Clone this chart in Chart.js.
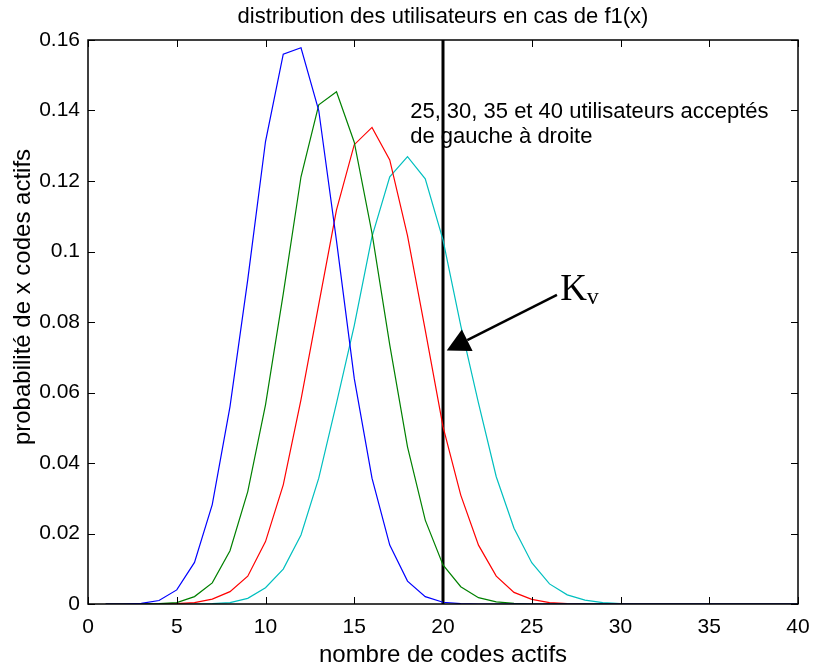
<!DOCTYPE html>
<html>
<head>
<meta charset="utf-8">
<script src="https://cdn.jsdelivr.net/npm/chart.js@4.4.0/dist/chart.umd.min.js"></script>
<style>
  html, body { margin: 0; padding: 0; background: #fff; }
</style>
</head>
<body>
<canvas id="distChart" width="815" height="667"></canvas>
<script>
// nombre de codes actifs (x = 1..40)
const codes = [1, 2, 3, 4, 5, 6, 7, 8, 9, 10, 11, 12, 13, 14, 15, 16, 17, 18, 19, 20,
               21, 22, 23, 24, 25, 26, 27, 28, 29, 30, 31, 32, 33, 34, 35, 36, 37, 38, 39, 40];

// 25 utilisateurs
const users25 = [0, 0, 0.0002, 0.0010, 0.0040, 0.0118, 0.0282, 0.0560, 0.0920, 0.1312,
                 0.1560, 0.1578, 0.1400, 0.1030, 0.0640, 0.0357, 0.0167, 0.0065, 0.0021, 0.0005,
                 0.0001, 0, 0, 0, 0, 0, 0, 0, 0, 0, 0, 0, 0, 0, 0, 0, 0, 0, 0, 0];
// 30 utilisateurs
const users30 = [0, 0, 0, 0.0001, 0.0004, 0.0021, 0.0060, 0.0151, 0.0319, 0.0565,
                 0.0880, 0.1212, 0.1416, 0.1453, 0.1310, 0.1052, 0.0735, 0.0446, 0.0238, 0.0111,
                 0.0049, 0.0018, 0.0006, 0.0002, 0, 0, 0, 0, 0, 0, 0, 0, 0, 0, 0, 0, 0, 0, 0, 0];
// 35 utilisateurs
const users35 = [0, 0, 0, 0, 0.0001, 0.0004, 0.0014, 0.0035, 0.0079, 0.0177,
                 0.0338, 0.0580, 0.0850, 0.1118, 0.1303, 0.1352, 0.1260, 0.1045, 0.0777, 0.0503,
                 0.0309, 0.0167, 0.0079, 0.0033, 0.0013, 0.0004, 0.0001, 0, 0, 0, 0, 0, 0, 0, 0, 0, 0, 0, 0, 0];
// 40 utilisateurs
const users40 = [0, 0, 0, 0, 0, 0, 0.0001, 0.0004, 0.0016, 0.0046,
                 0.0099, 0.0196, 0.0357, 0.0570, 0.0790, 0.1042, 0.1212, 0.1269, 0.1206, 0.1033,
                 0.0790, 0.0570, 0.0361, 0.0215, 0.0117, 0.0057, 0.0026, 0.0011, 0.0004, 0.0001,
                 0, 0, 0, 0, 0, 0, 0, 0, 0, 0];

// seuil Kv
const kvX = 20;
const kvRange = [0, 0.16];

const xTicks = [0, 5, 10, 15, 20, 25, 30, 35, 40];
const xTickLabels = ['0', '5', '10', '15', '20', '25', '30', '35', '40'];
const yTicks = [0, 0.02, 0.04, 0.06, 0.08, 0.1, 0.12, 0.14, 0.16];
const yTickLabels = ['0', '0.02', '0.04', '0.06', '0.08', '0.1', '0.12', '0.14', '0.16'];

const titleText = 'distribution des utilisateurs en cas de f1(x)';
const xTitle = 'nombre de codes actifs';
const yTitle = 'probabilité de x codes actifs';
const noteLines = ['25, 30, 35 et 40 utilisateurs acceptés', 'de gauche à droite'];

const SANS = "'Liberation Sans', Arial, sans-serif";
const SERIF = "'Liberation Serif', 'Times New Roman', serif";

function toPoints(values) {
    return codes.map(function(c, i) { return {x: c, y: values[i]}; });
}

function curve(label, values, color) {
    return {
        label: label,
        data: toPoints(values),
        borderColor: color,
        borderWidth: 1.2,
        pointRadius: 0,
        tension: 0,
        fill: false
    };
}

// frame, inward ticks, texts and the Kv arrow
const decorations = {
    id: 'decorations',
    afterDraw(chart) {
        const ctx = chart.ctx;
        const a = chart.chartArea;
        const xs = chart.scales.x;
        const ys = chart.scales.y;
        ctx.save();

        ctx.strokeStyle = '#000';
        ctx.lineWidth = 1;
        ctx.beginPath();
        xTicks.forEach(function(v) {
            const px = Math.round(xs.getPixelForValue(v)) + 0.5;
            ctx.moveTo(px, a.bottom); ctx.lineTo(px, a.bottom - 7);
            ctx.moveTo(px, a.top); ctx.lineTo(px, a.top + 7);
        });
        yTicks.forEach(function(v) {
            const py = Math.round(ys.getPixelForValue(v)) + 0.5;
            ctx.moveTo(a.left, py); ctx.lineTo(a.left + 7, py);
            ctx.moveTo(a.right, py); ctx.lineTo(a.right - 7, py);
        });
        ctx.stroke();

        ctx.lineWidth = 1.5;
        ctx.strokeRect(a.left, a.top, a.right - a.left, a.bottom - a.top);

        // titles
        ctx.fillStyle = '#000';
        ctx.textAlign = 'center';
        ctx.textBaseline = 'alphabetic';
        const cx = (a.left + a.right) / 2;
        ctx.font = '22px ' + SANS;
        ctx.fillText(titleText, cx, 23);
        ctx.font = '24px ' + SANS;
        ctx.fillText(xTitle, cx, 662);
        ctx.save();
        ctx.translate(30, 297);
        ctx.rotate(-Math.PI / 2);
        ctx.fillText(yTitle, 0, 0);
        ctx.restore();

        // note
        ctx.font = '22px ' + SANS;
        ctx.textAlign = 'left';
        const nx = xs.getPixelForValue(18.15);
        const ny = ys.getPixelForValue(0.1378);
        noteLines.forEach(function(t, i) {
            ctx.fillText(t, nx, ny + i * 24.4);
        });

        // Kv label
        const kx = xs.getPixelForValue(26.6);
        const ky = ys.getPixelForValue(0.0862);
        ctx.font = '37px ' + SERIF;
        ctx.fillText('K', kx, ky);
        const kw = ctx.measureText('K').width;
        ctx.font = '24px ' + SERIF;
        ctx.fillText('v', kx + kw, ky + 4);

        // arrow
        const x0 = xs.getPixelForValue(26.42), y0 = ys.getPixelForValue(0.0877);
        const x1 = xs.getPixelForValue(20.21), y1 = ys.getPixelForValue(0.0719);
        const ang = Math.atan2(y1 - y0, x1 - x0);
        const headLen = 23, headHalf = 12;
        const bx = x1 - headLen * Math.cos(ang), by = y1 - headLen * Math.sin(ang);
        ctx.lineWidth = 2.5;
        ctx.beginPath();
        ctx.moveTo(x0, y0);
        ctx.lineTo(bx, by);
        ctx.stroke();
        ctx.beginPath();
        ctx.moveTo(x1, y1);
        ctx.lineTo(bx + headHalf * Math.sin(ang), by - headHalf * Math.cos(ang));
        ctx.lineTo(bx - headHalf * Math.sin(ang), by + headHalf * Math.cos(ang));
        ctx.closePath();
        ctx.fill();

        ctx.restore();
    }
};

new Chart(document.getElementById('distChart'), {
    type: 'line',
    data: {
        datasets: [
            curve('25 utilisateurs', users25, '#0000ff'),
            curve('30 utilisateurs', users30, '#008000'),
            curve('35 utilisateurs', users35, '#ff0000'),
            curve('40 utilisateurs', users40, '#00bfbf'),
            {
                label: 'Kv',
                data: kvRange.map(function(v) { return {x: kvX, y: v}; }),
                borderColor: '#000',
                borderWidth: 3,
                pointRadius: 0,
                fill: false
            }
        ]
    },
    options: {
        responsive: false,
        animation: false,
        layout: {
            padding: {top: 40, right: 17, left: 0, bottom: 0}
        },
        plugins: {
            legend: {display: false},
            tooltip: {enabled: false}
        },
        scales: {
            x: {
                type: 'linear',
                min: 0,
                max: 40,
                grid: {display: false, drawTicks: false},
                border: {display: false},
                afterFit: function(s) {
                    s.height = 63;
                    s.paddingLeft = 0;
                    s.paddingRight = 0;
                },
                afterBuildTicks: function(s) { s.ticks = xTicks.map(function(v) { return {value: v}; }); },
                ticks: {
                    padding: 11,
                    color: '#000',
                    font: {family: SANS, size: 21},
                    maxRotation: 0,
                    callback: function(v) { return xTickLabels[xTicks.indexOf(v)]; }
                }
            },
            y: {
                min: 0,
                max: 0.16,
                grid: {display: false, drawTicks: false},
                border: {display: false},
                afterFit: function(s) {
                    s.width = 88;
                    s.paddingTop = 0;
                    s.paddingBottom = 0;
                },
                afterBuildTicks: function(s) { s.ticks = yTicks.map(function(v) { return {value: v}; }); },
                ticks: {
                    padding: 8,
                    color: '#000',
                    font: {family: SANS, size: 21},
                    callback: function(v) { return yTickLabels[yTicks.indexOf(v)]; }
                }
            }
        }
    },
    plugins: [decorations]
});
</script>
</body>
</html>
